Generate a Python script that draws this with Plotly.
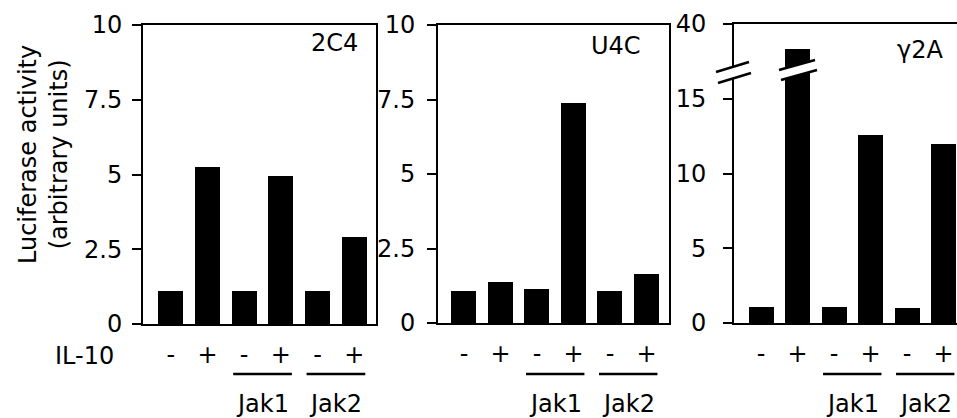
import plotly.graph_objects as go

# ---------------- data ----------------
conditions = ["-", "+", "-", "+", "-", "+"]          # IL-10 treatment
groups = ["Jak1", "Jak2"]                              # transfected kinase pairs
panel_names = ["2C4", "U4C", "γ2A"]
vals_2C4 = [1.11, 5.26, 1.11, 4.96, 1.11, 2.92]
vals_U4C = [1.08, 1.37, 1.13, 7.39, 1.08, 1.64]
vals_g2A = [1.09, 31.6, 1.05, 12.6, 0.98, 12.0]
ticks_10 = [0, 2.5, 5, 7.5, 10]
ticklabels_10 = ["0", "2.5", "5", "7.5", "10"]
ticks_g2A = [0, 5, 10, 15, 40]

# broken axis for γ2A: 0-15 linear, 15-40 compressed into 15-20
BREAK_LO, BREAK_HI, BREAK_SPAN = 15, 40, 5


def brk(v):
    if v <= BREAK_LO:
        return v
    return BREAK_LO + (v - BREAK_LO) * BREAK_SPAN / (BREAK_HI - BREAK_LO)


W, H = 957, 418
FONT = "DejaVu Sans"
FS = 24


def fx(px):
    return px / W


def fy(py):
    return 1 - py / H


xs = list(range(len(conditions)))
fig = go.Figure()

panels = [
    dict(vals=vals_2C4, dom=(143, 376), r=(-0.757, 5.592), yt=(25, 324), yr=(0, 10),
         tv=ticks_10, tt=ticklabels_10, mirror_y=True, stand=5, lab=(334, 43)),
    dict(vals=vals_U4C, dom=(438, 669), r=(-0.712, 5.617), yt=(25, 323), yr=(0, 10),
         tv=ticks_10, tt=ticklabels_10, mirror_y=True, stand=7, lab=(616, 46)),
    dict(vals=[brk(v) for v in vals_g2A], dom=(734, 957), r=(-0.74, 5.37), yt=(24, 323),
         yr=(0, brk(BREAK_HI)), tv=[brk(v) for v in ticks_g2A], tt=[str(t) for t in ticks_g2A],
         mirror_y=False, stand=12, lab=(920, 50)),
]

shapes = []
annotations = []
for i, p in enumerate(panels):
    n = "" if i == 0 else str(i + 1)
    xa, ya = "x" + n, "y" + n
    fig.add_trace(go.Bar(x=xs, y=p["vals"], width=0.685, marker=dict(color="black", line=dict(width=0)),
                         xaxis=xa, yaxis=ya, showlegend=False, hoverinfo="y"))
    fig.layout["xaxis" + n] = dict(
        domain=[fx(p["dom"][0]), fx(p["dom"][1])], range=list(p["r"]), anchor=ya,
        showline=True, linewidth=2, linecolor="black", mirror=True,
        tickvals=xs, ticktext=conditions, ticks="", ticklabelstandoff=8,
        tickfont=dict(family=FONT, size=FS, color="black"),
        showgrid=False, zeroline=False, fixedrange=True)
    fig.layout["yaxis" + n] = dict(
        domain=[fy(p["yt"][1]), fy(p["yt"][0])], range=list(p["yr"]), anchor=xa,
        showline=True, linewidth=2, linecolor="black", mirror=p["mirror_y"],
        tickvals=p["tv"], ticktext=p["tt"], ticks="outside", ticklen=9, tickwidth=2,
        tickcolor="black", ticklabelstandoff=p["stand"],
        tickfont=dict(family=FONT, size=FS, color="black"),
        showgrid=False, zeroline=False, fixedrange=True)
    # panel name
    annotations.append(dict(text=panel_names[i], xref="paper", yref="paper",
                            x=fx(p["lab"][0]), y=fy(p["lab"][1]), showarrow=False,
                            xanchor="center", yanchor="middle",
                            font=dict(family=FONT, size=FS, color="black")))
    # Jak underlines + labels
    for g, name in enumerate(groups):
        c0 = 2 + 2 * g
        shapes.append(dict(type="line", xref=xa, yref="paper", x0=c0 - 0.3, x1=c0 + 1.3,
                           y0=fy(374), y1=fy(374), line=dict(color="black", width=2.5)))
        annotations.append(dict(text=name, xref=xa, yref="paper", x=c0 + 0.5, y=fy(404),
                                showarrow=False, xanchor="center", yanchor="middle",
                                font=dict(family=FONT, size=FS, color="black")))

# break marks for γ2A panel
def slash_pair(x0, y0, x1, y1, dx, dy):
    # white gap then two parallel lines (paper pixel coordinates)
    path = "M {a},{b} L {c},{d} L {e},{f} L {g},{h} Z".format(
        a=fx(x0), b=fy(y0), c=fx(x1), d=fy(y1), e=fx(x1 + dx), f=fy(y1 + dy), g=fx(x0 + dx), h=fy(y0 + dy))
    out = [dict(type="path", xref="paper", yref="paper", path=path,
                fillcolor="white", line=dict(width=0), layer="above")]
    for (a, b, c, d) in [(x0, y0, x1, y1), (x0 + dx, y0 + dy, x1 + dx, y1 + dy)]:
        out.append(dict(type="line", xref="paper", yref="paper", x0=fx(a), y0=fy(b), x1=fx(c), y1=fy(d),
                        line=dict(color="black", width=2.5), layer="above"))
    return out


shapes += slash_pair(716, 72, 749, 62, 2, 11)
shapes += slash_pair(779, 70, 815, 60, 2, 10)

# IL-10 label and y title
annotations.append(dict(text="IL-10", xref="paper", yref="paper", x=fx(84), y=fy(356),
                        showarrow=False, xanchor="center", yanchor="middle",
                        font=dict(family=FONT, size=FS, color="black")))
annotations.append(dict(text="Luciferase activity<br>(arbitrary units)", xref="paper", yref="paper",
                        x=fx(43), y=fy(155), showarrow=False, textangle=-90,
                        xanchor="center", yanchor="middle",
                        font=dict(family=FONT, size=FS, color="black")))

fig.update_layout(width=W, height=H, margin=dict(l=0, r=0, t=0, b=0, autoexpand=False),
                  paper_bgcolor="white", plot_bgcolor="white",
                  shapes=shapes, annotations=annotations, bargap=0)

fig.write_html("out.html", config={"displayModeBar": False},
               post_script="document.body.style.margin='0px';")
